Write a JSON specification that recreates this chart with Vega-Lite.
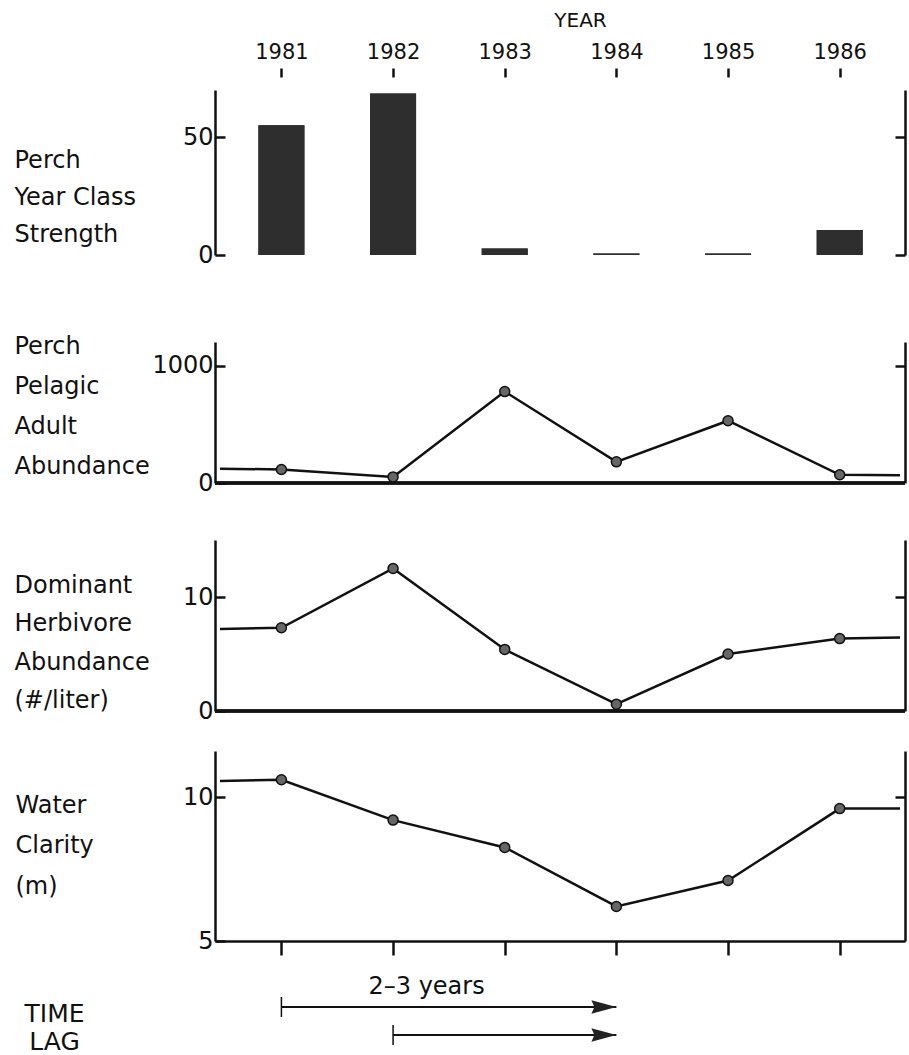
{
  "$schema": "https://vega.github.io/schema/vega-lite/v6.json",
  "width": 690,
  "height": 851,
  "autosize": {"type": "none"},
  "padding": {"left": 215, "top": 90, "right": 4, "bottom": 114},
  "background": "white",
  "config": {
    "view": {"stroke": null},
    "font": "DejaVu Sans",
    "axis": {
      "labelFont": "DejaVu Sans", "titleFont": "DejaVu Sans",
      "labelColor": "#111", "titleColor": "#111",
      "domainColor": "#111", "tickColor": "#111",
      "domainWidth": 2.5, "tickWidth": 2.5, "grid": false,
      "labelOverlap": false, "labelFlush": false,
      "titleFontWeight": "normal"
    }
  },
  "datasets": {
    "yc": [
      {"year": 1981, "strength": 55},
      {"year": 1982, "strength": 68.5},
      {"year": 1983, "strength": 2.8},
      {"year": 1984, "strength": 0.6},
      {"year": 1985, "strength": 0.6},
      {"year": 1986, "strength": 10.6}
    ],
    "adult": [
      {"year": 1980.45, "n": 122, "kind": "edge"},
      {"year": 1981, "n": 115, "kind": "obs"},
      {"year": 1982, "n": 52, "kind": "obs"},
      {"year": 1983, "n": 778, "kind": "obs"},
      {"year": 1984, "n": 180, "kind": "obs"},
      {"year": 1985, "n": 530, "kind": "obs"},
      {"year": 1986, "n": 70, "kind": "obs"},
      {"year": 1986.54, "n": 66, "kind": "edge"}
    ],
    "herb": [
      {"year": 1980.45, "n": 7.2, "kind": "edge"},
      {"year": 1981, "n": 7.3, "kind": "obs"},
      {"year": 1982, "n": 12.5, "kind": "obs"},
      {"year": 1983, "n": 5.4, "kind": "obs"},
      {"year": 1984, "n": 0.6, "kind": "obs"},
      {"year": 1985, "n": 5.0, "kind": "obs"},
      {"year": 1986, "n": 6.35, "kind": "obs"},
      {"year": 1986.54, "n": 6.45, "kind": "edge"}
    ],
    "clarity": [
      {"year": 1980.45, "m": 10.56, "kind": "edge"},
      {"year": 1981, "m": 10.6, "kind": "obs"},
      {"year": 1982, "m": 9.2, "kind": "obs"},
      {"year": 1983, "m": 8.25, "kind": "obs"},
      {"year": 1984, "m": 6.2, "kind": "obs"},
      {"year": 1985, "m": 7.1, "kind": "obs"},
      {"year": 1986, "m": 9.6, "kind": "obs"},
      {"year": 1986.54, "m": 9.6, "kind": "edge"}
    ],
    "lag": [
      {"row": 1, "start": 1981, "end": 1984},
      {"row": 2, "start": 1982, "end": 1984}
    ],
    "lagtext": [
      {"row": 1, "x": 1982.3, "label": "2–3 years"}
    ]
  },
  "layer": [
    {
      "data": {"name": "yc"},
      "mark": {"type": "bar", "size": 46, "color": "#2e2e2e"},
      "encoding": {
        "x": {"field": "year", "type": "quantitative",
          "scale": {"domain": [1980.45, 1986.54], "nice": false, "zero": false},
          "axis": {"orient": "top", "title": "YEAR", "values": [1981, 1982, 1983, 1984, 1985, 1986], "format": "d",
            "domain": false, "tickSize": 9, "offset": 13, "labelPadding": 6, "labelFontSize": 21,
            "titleFontSize": 20, "titlePadding": 11, "titleX": 365}},
        "y": {"field": "strength", "type": "quantitative",
          "scale": {"domain": [0, 70], "range": [165, 0], "nice": false},
          "axis": {"orient": "left", "values": [0, 50], "tickSize": -10, "labelPadding": 12, "labelFontSize": 24,
            "title": ["Perch", "Year Class", "Strength"], "titleAngle": 0, "titleAlign": "left", "titleBaseline": "alphabetic",
            "titleX": -201, "titleY": 77, "titleFontSize": 24, "titleLineHeight": 37}}
      }
    },
    {
      "data": {"name": "yc"},
      "mark": {"type": "bar", "size": 46, "color": "#2e2e2e"},
      "encoding": {
        "x": {"field": "year", "type": "quantitative", "scale": {"domain": [1980.45, 1986.54], "nice": false, "zero": false}, "axis": null},
        "y": {"field": "strength", "type": "quantitative",
          "scale": {"domain": [0, 70], "range": [165, 0], "nice": false},
          "axis": {"orient": "right", "values": [0, 50], "tickSize": -10, "labels": false, "title": null}}
      }
    },
    {
      "data": {"name": "adult"},
      "mark": {"type": "rule", "color": "#111", "strokeWidth": 2.5},
      "encoding": {
        "y": {"datum": 0, "type": "quantitative", "scale": {"domain": [0, 1200], "range": [393, 252], "nice": false}, "axis": null}
      }
    },
    {
      "data": {"name": "adult"},
      "mark": {"type": "line", "color": "#111", "strokeWidth": 2.5},
      "encoding": {
        "x": {"field": "year", "type": "quantitative", "scale": {"domain": [1980.45, 1986.54], "nice": false, "zero": false}, "axis": null},
        "y": {"field": "n", "type": "quantitative",
          "scale": {"domain": [0, 1200], "range": [393, 252], "nice": false},
          "axis": {"orient": "left", "values": [0, 1000], "format": "d", "tickSize": -10, "labelPadding": 12, "labelFontSize": 24,
            "title": ["Perch", "Pelagic", "Adult", "Abundance"], "titleAngle": 0, "titleAlign": "left", "titleBaseline": "alphabetic",
            "titleX": -201, "titleY": 263, "titleFontSize": 24, "titleLineHeight": 40}}
      }
    },
    {
      "data": {"name": "adult"},
      "transform": [{"filter": "datum.kind == 'obs'"}],
      "mark": {"type": "point", "filled": true, "size": 100, "fill": "#666", "stroke": "#111", "strokeWidth": 1.5, "opacity": 1},
      "encoding": {
        "x": {"field": "year", "type": "quantitative", "scale": {"domain": [1980.45, 1986.54], "nice": false, "zero": false}, "axis": null},
        "y": {"field": "n", "type": "quantitative",
          "scale": {"domain": [0, 1200], "range": [393, 252], "nice": false},
          "axis": {"orient": "right", "values": [1000], "tickSize": -10, "labels": false, "title": null}}
      }
    },
    {
      "data": {"name": "herb"},
      "mark": {"type": "rule", "color": "#111", "strokeWidth": 2.5},
      "encoding": {
        "y": {"datum": 0, "type": "quantitative", "scale": {"domain": [0, 15], "range": [621, 450], "nice": false}, "axis": null}
      }
    },
    {
      "data": {"name": "herb"},
      "mark": {"type": "line", "color": "#111", "strokeWidth": 2.5},
      "encoding": {
        "x": {"field": "year", "type": "quantitative", "scale": {"domain": [1980.45, 1986.54], "nice": false, "zero": false}, "axis": null},
        "y": {"field": "n", "type": "quantitative",
          "scale": {"domain": [0, 15], "range": [621, 450], "nice": false},
          "axis": {"orient": "left", "values": [0, 10], "tickSize": -10, "labelPadding": 12, "labelFontSize": 24,
            "title": ["Dominant", "Herbivore", "Abundance", "(#/liter)"], "titleAngle": 0, "titleAlign": "left", "titleBaseline": "alphabetic",
            "titleX": -201, "titleY": 502, "titleFontSize": 24, "titleLineHeight": 38.5}}
      }
    },
    {
      "data": {"name": "herb"},
      "transform": [{"filter": "datum.kind == 'obs'"}],
      "mark": {"type": "point", "filled": true, "size": 100, "fill": "#666", "stroke": "#111", "strokeWidth": 1.5, "opacity": 1},
      "encoding": {
        "x": {"field": "year", "type": "quantitative", "scale": {"domain": [1980.45, 1986.54], "nice": false, "zero": false}, "axis": null},
        "y": {"field": "n", "type": "quantitative",
          "scale": {"domain": [0, 15], "range": [621, 450], "nice": false},
          "axis": {"orient": "right", "values": [10], "tickSize": -10, "labels": false, "title": null}}
      }
    },
    {
      "data": {"name": "clarity"},
      "mark": {"type": "line", "color": "#111", "strokeWidth": 2.5},
      "encoding": {
        "x": {"field": "year", "type": "quantitative", "scale": {"domain": [1980.45, 1986.54], "nice": false, "zero": false},
          "axis": {"orient": "bottom", "values": [1981, 1982, 1983, 1984, 1985, 1986], "labels": false, "title": null, "tickSize": 14, "domain": true}},
        "y": {"field": "m", "type": "quantitative",
          "scale": {"domain": [5, 11.6], "range": [851, 661], "nice": false, "zero": false},
          "axis": {"orient": "left", "values": [5, 10], "tickSize": -10, "labelPadding": 12, "labelFontSize": 24,
            "title": ["Water", "Clarity", "(m)"], "titleAngle": 0, "titleAlign": "left", "titleBaseline": "alphabetic",
            "titleX": -200, "titleY": 722, "titleFontSize": 24, "titleLineHeight": 40.5}}
      }
    },
    {
      "data": {"name": "clarity"},
      "transform": [{"filter": "datum.kind == 'obs'"}],
      "mark": {"type": "point", "filled": true, "size": 100, "fill": "#666", "stroke": "#111", "strokeWidth": 1.5, "opacity": 1},
      "encoding": {
        "x": {"field": "year", "type": "quantitative", "scale": {"domain": [1980.45, 1986.54], "nice": false, "zero": false}, "axis": null},
        "y": {"field": "m", "type": "quantitative",
          "scale": {"domain": [5, 11.6], "range": [851, 661], "nice": false, "zero": false},
          "axis": {"orient": "right", "values": [10], "tickSize": -10, "labels": false, "title": null}}
      }
    },
    {
      "data": {"name": "lag"},
      "mark": {"type": "rule", "color": "#111", "strokeWidth": 2},
      "encoding": {
        "x": {"field": "start", "type": "quantitative", "scale": {"domain": [1980.45, 1986.54], "nice": false, "zero": false}, "axis": null},
        "x2": {"field": "end"},
        "y": {"field": "row", "type": "quantitative",
          "scale": {"domain": [1, 2], "range": [917, 945], "nice": false, "zero": false},
          "axis": {"orient": "left", "domain": false, "ticks": false, "labels": false,
            "title": ["TIME", "LAG"], "titleAngle": 0, "titleAlign": "center", "titleBaseline": "alphabetic",
            "titleX": -161, "titleY": 931, "titleFontSize": 25, "titleLineHeight": 28}}
      }
    },
    {
      "data": {"name": "lag"},
      "mark": {"type": "point", "shape": "M0,-1L0,1", "size": 400, "filled": false, "stroke": "#111", "strokeWidth": 1.5, "opacity": 1},
      "encoding": {
        "x": {"field": "start", "type": "quantitative", "scale": {"domain": [1980.45, 1986.54], "nice": false, "zero": false}, "axis": null},
        "y": {"field": "row", "type": "quantitative", "scale": {"domain": [1, 2], "range": [917, 945], "nice": false, "zero": false}, "axis": null}
      }
    },
    {
      "data": {"name": "lag"},
      "mark": {"type": "point", "shape": "M0,0L-1,-0.27L-0.88,0L-1,0.27Z", "size": 2500, "filled": true, "color": "#222", "opacity": 1},
      "encoding": {
        "x": {"field": "end", "type": "quantitative", "scale": {"domain": [1980.45, 1986.54], "nice": false, "zero": false}, "axis": null},
        "y": {"field": "row", "type": "quantitative", "scale": {"domain": [1, 2], "range": [917, 945], "nice": false, "zero": false}, "axis": null}
      }
    },
    {
      "data": {"name": "lagtext"},
      "mark": {"type": "text", "fontSize": 24, "align": "center", "baseline": "alphabetic", "dy": -13, "color": "#111", "font": "DejaVu Sans"},
      "encoding": {
        "x": {"field": "x", "type": "quantitative", "scale": {"domain": [1980.45, 1986.54], "nice": false, "zero": false}, "axis": null},
        "y": {"field": "row", "type": "quantitative", "scale": {"domain": [1, 2], "range": [917, 945], "nice": false, "zero": false}, "axis": null},
        "text": {"field": "label"}
      }
    }
  ],
  "resolve": {"scale": {"y": "independent"}, "axis": {"x": "independent", "y": "independent"}}
}
